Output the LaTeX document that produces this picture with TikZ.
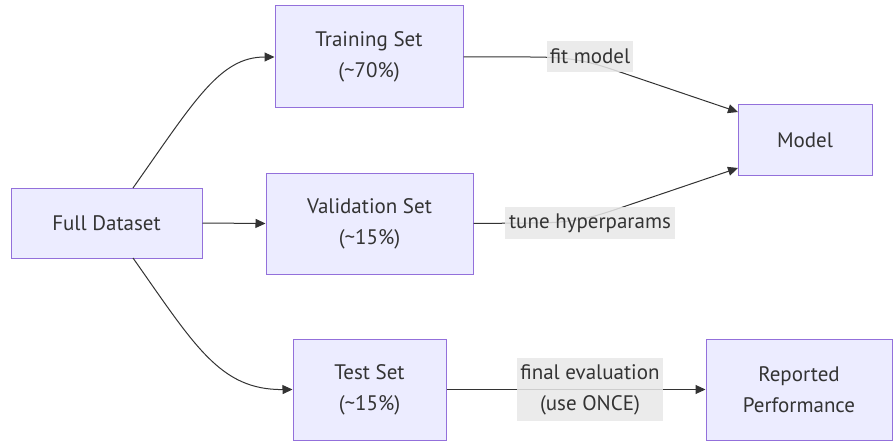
\documentclass[tikz,border=0pt]{standalone}
\usepackage{fontspec}
\setmainfont{PT Sans}
\usetikzlibrary{arrows.meta}
\definecolor{boxfill}{HTML}{ECECFF}
\definecolor{boxdraw}{HTML}{9370DB}
\definecolor{ink}{HTML}{333333}
\definecolor{lblbg}{HTML}{E8E8E8}
\tikzset{
  box/.style={draw=boxdraw, fill=boxfill, line width=1pt, text=ink, align=center,
    inner sep=0pt, font=\fontsize{21}{31}\selectfont},
  lbl/.style={fill=lblbg, fill opacity=0.85, text opacity=1, text=ink, align=center,
    inner sep=0pt, font=\fontsize{21}{31}\selectfont},
  conn/.style={draw=ink, line width=1pt, -{Triangle[length=10pt,width=9pt]}},
  plain/.style={draw=ink, line width=1pt}
}
\begin{document}
\begin{tikzpicture}[x=1pt,y=-1pt]
\useasboundingbox (0,0) rectangle (893,441);
\node[box, minimum width=191pt, minimum height=70pt] (full) at (106.5,223) {Full Dataset};
\node[box, minimum width=188pt, minimum height=102pt] (train) at (369,57) {Training Set\\(\textasciitilde70\%)};
\node[box, minimum width=207pt, minimum height=101pt] (val) at (369.5,223.5) {Validation Set\\(\textasciitilde15\%)};
\node[box, minimum width=153pt, minimum height=101pt] (test) at (369.5,389.5) {Test Set\\(\textasciitilde15\%)};
\node[box, minimum width=134pt, minimum height=70pt] (model) at (805,140) {Model};
\node[box, minimum width=186pt, minimum height=101pt] (rep) at (799,389.5) {Reported\\Performance};

\coordinate (fA) at (133,188);
\coordinate (fB) at (133,258);
\draw[conn] (fA) .. controls (195,100) and (220,57) .. (train.west);
\draw[conn] (full.east) -- (val.west);
\draw[conn] (fB) .. controls (195,346) and (220,390) .. (test.west);

\coordinate (m1) at (738,112);
\coordinate (m2) at (738,168);
\draw[conn] (train.east) -- (530,57) .. controls (575,57) and (590,62) .. (620,72) -- (m1);
\draw[conn] (val.east) -- (530,223) .. controls (575,223) and (590,218) .. (620,208) -- (m2);
\draw[conn] (test.east) -- (rep.west);

\node[lbl, minimum width=86pt, minimum height=31pt] (lfit) at (590,56.5) {fit model};
\node[lbl, minimum width=170pt, minimum height=32pt] (ltune) at (590,223) {tune hyperparams};
\node[lbl, minimum width=146pt, minimum height=63pt] (lfinal) at (590,389.5) {final evaluation\\(use ONCE)};
\end{tikzpicture}
\end{document}
